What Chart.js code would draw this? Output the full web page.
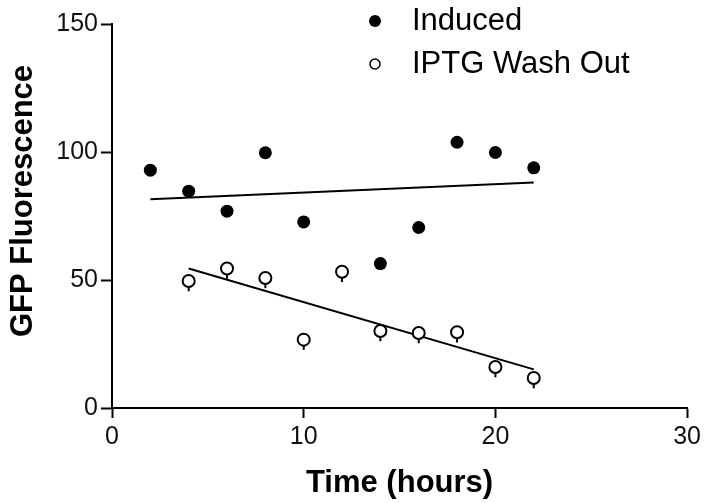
<!DOCTYPE html>
<html>
<head>
<meta charset="utf-8">
<script src="https://cdn.jsdelivr.net/npm/chart.js@4/dist/chart.umd.min.js"></script>
<style>
    html, body { margin: 0; padding: 0; background: #fff; }
    canvas { display: block; }
</style>
</head>
<body>
<canvas id="gfpChart" width="705" height="503"></canvas>
<script>
// values
const timeInduced = [2, 4, 6, 8, 10, 14, 16, 18, 20, 22];
const gfpInduced = [92.9, 84.7, 76.9, 99.7, 72.7, 56.4, 70.5, 103.8, 99.8, 93.8];
const timeWash = [4, 6, 8, 10, 12, 14, 16, 18, 20, 22];
const gfpWash = [49.6, 54.5, 50.8, 26.7, 53.2, 30.1, 29.3, 29.6, 16.0, 11.7];
const errWash = [4, 4, 4, 4, 4, 4, 4, 4, 4, 4];

// fitted lines (end points)
const fitInducedX = [2, 22];
const fitInducedY = [81.5, 88.1];
const fitWashX = [4, 22];
const fitWashY = [54.5, 15.1];

const seriesLabels = ['Induced', 'IPTG Wash Out'];
const xTicks = [0, 10, 20, 30];
const yTicks = [0, 50, 100, 150];
const yTitle = 'GFP Fluorescence';

const FONT = "'Liberation Sans', Arial, Helvetica, sans-serif";

function toPoints(xs, ys) {
    return xs.map((x, i) => ({ x: x, y: ys[i] }));
}

// short error bars below the open circles
const errorBars = {
    id: 'errorBars',
    beforeDatasetsDraw(chart) {
        const ctx = chart.ctx;
        const xs = chart.scales.x;
        const ys = chart.scales.y;
        ctx.save();
        ctx.strokeStyle = '#000';
        ctx.lineWidth = 2;
        timeWash.forEach((t, i) => {
            const px = xs.getPixelForValue(t);
            ctx.beginPath();
            ctx.moveTo(px, ys.getPixelForValue(gfpWash[i]));
            ctx.lineTo(px, ys.getPixelForValue(gfpWash[i] - errWash[i]));
            ctx.stroke();
        });
        ctx.restore();
    }
};

// legend inside the plot (top right) and the y title, which sits a bit above centre
const extraText = {
    id: 'extraText',
    afterDraw(chart) {
        const ctx = chart.ctx;
        ctx.save();
        ctx.font = '31px ' + FONT;
        ctx.fillStyle = '#000';
        ctx.textBaseline = 'middle';

        ctx.beginPath();
        ctx.arc(375, 21, 6, 0, Math.PI * 2);
        ctx.fill();
        ctx.fillText(seriesLabels[0], 412, 21);

        ctx.beginPath();
        ctx.arc(375, 64, 5, 0, Math.PI * 2);
        ctx.lineWidth = 1.5;
        ctx.strokeStyle = '#000';
        ctx.stroke();
        ctx.fillText(seriesLabels[1], 412, 64);

        // y axis title
        ctx.translate(23, 201);
        ctx.rotate(-Math.PI / 2);
        ctx.textAlign = 'center';
        ctx.font = 'bold 31px ' + FONT;
        ctx.fillText(yTitle, 0, 0);
        ctx.restore();
    }
};

const ctx = document.getElementById('gfpChart').getContext('2d');

new Chart(ctx, {
    type: 'scatter',
    data: {
        datasets: [
            {
                label: seriesLabels[0],
                data: toPoints(timeInduced, gfpInduced),
                pointRadius: 6.5,
                pointBackgroundColor: '#000',
                pointBorderColor: '#000',
                pointBorderWidth: 0,
                order: 0
            },
            {
                label: seriesLabels[1],
                data: toPoints(timeWash, gfpWash),
                pointRadius: 6,
                pointBackgroundColor: '#fff',
                pointBorderColor: '#000',
                pointBorderWidth: 2,
                order: 0
            },
            {
                label: 'fit induced',
                type: 'line',
                data: toPoints(fitInducedX, fitInducedY),
                borderColor: '#000',
                borderWidth: 2,
                pointRadius: 0,
                order: 1
            },
            {
                label: 'fit wash out',
                type: 'line',
                data: toPoints(fitWashX, fitWashY),
                borderColor: '#000',
                borderWidth: 2,
                pointRadius: 0,
                order: 1
            }
        ]
    },
    options: {
        responsive: false,
        animation: false,
        devicePixelRatio: 1,
        layout: {
            padding: { top: 24, right: 16, left: 0, bottom: 0 }
        },
        plugins: {
            legend: { display: false },
            tooltip: { enabled: false }
        },
        scales: {
            x: {
                type: 'linear',
                min: 0,
                max: 30,
                afterBuildTicks: (scale) => {
                    scale.ticks = xTicks.map(v => ({ value: v }));
                },
                afterFit: (scale) => {
                    scale.height = 95;
                },
                border: { display: true, color: '#000', width: 2 },
                grid: {
                    drawOnChartArea: false,
                    drawTicks: true,
                    tickLength: 10,
                    tickWidth: 2,
                    tickColor: '#000'
                },
                ticks: {
                    color: '#111',
                    padding: 4,
                    maxRotation: 0,
                    font: { family: FONT, size: 25 }
                },
                title: {
                    display: true,
                    text: 'Time (hours)',
                    color: '#000',
                    padding: { top: 0, bottom: 1 },
                    font: { family: FONT, size: 31, weight: 'bold' }
                }
            },
            y: {
                type: 'linear',
                min: 0,
                max: 150,
                afterBuildTicks: (scale) => {
                    scale.ticks = yTicks.map(v => ({ value: v }));
                },
                afterFit: (scale) => {
                    scale.width = 112;
                },
                border: { display: true, color: '#000', width: 2 },
                grid: {
                    drawOnChartArea: false,
                    drawTicks: true,
                    tickLength: 11,
                    tickWidth: 2,
                    tickColor: '#000'
                },
                ticks: {
                    color: '#111',
                    padding: 3,
                    font: { family: FONT, size: 25 }
                }
            }
        }
    },
    plugins: [errorBars, extraText]
});
</script>
</body>
</html>
